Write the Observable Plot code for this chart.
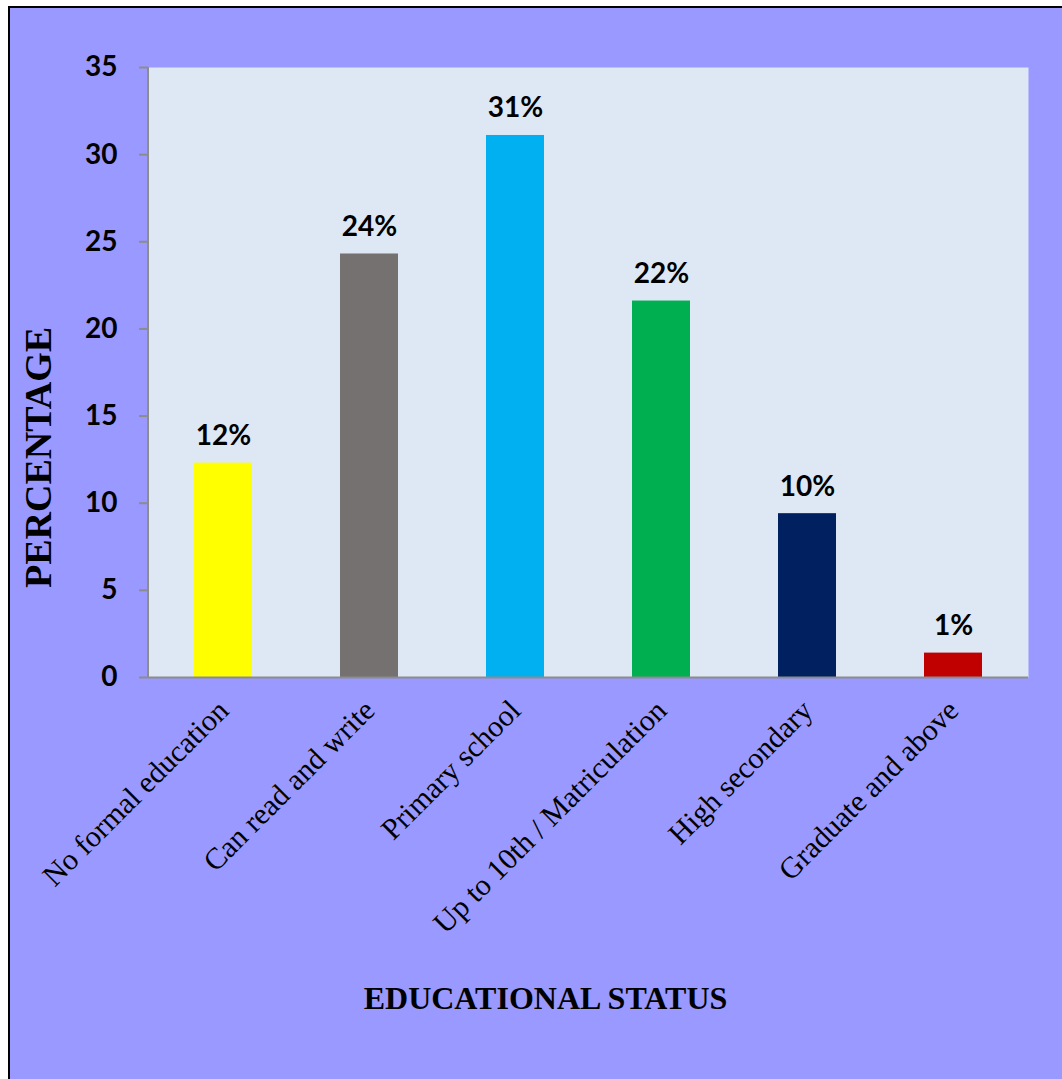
<!DOCTYPE html>
<html>
<head>
<meta charset="utf-8">
<script src="https://cdn.jsdelivr.net/npm/d3@7"></script>
<script src="https://cdn.jsdelivr.net/npm/@observablehq/plot@0.6"></script>
<style>
  html, body { margin: 0; padding: 0; background: #ffffff; width: 1062px; height: 1079px; overflow: hidden; }
  #panel { position: absolute; left: 8px; top: 6px; width: 1100px; height: 1100px; background: #9999FF;
           border-left: 2px solid #000; border-top: 2px solid #000; }
  #chart { position: absolute; left: 0; top: 0; }
  #chart svg { background: transparent; overflow: visible; }
</style>
</head>
<body>
<div id="panel"></div>
<div id="chart"></div>
<script>
const categories = ["No formal education", "Can read and write", "Primary school", "Up to 10th / Matriculation", "High secondary", "Graduate and above"];
const values = [12.3, 24.3, 31.1, 21.6, 9.4, 1.4];
const valueLabels = ["12%", "24%", "31%", "22%", "10%", "1%"];
const yTicks = [0, 5, 10, 15, 20, 25, 30, 35];
const xTitle = "EDUCATIONAL STATUS";
const yTitle = "PERCENTAGE";
const barColors = ["#FFFF00", "#767171", "#00B0F0", "#00B050", "#002060", "#C00000"];

const data = categories.map((c, i) => ({category: c, value: values[i], label: valueLabels[i]}));

const axisGray = "#8c8c8c";

const leftAxisLine = (index, scales, values, dims) => {
  const y = scales.y;
  return d3.create("svg:line")
    .attr("x1", dims.marginLeft).attr("x2", dims.marginLeft)
    .attr("y1", y(0)).attr("y2", y(35))
    .attr("stroke", axisGray).attr("stroke-width", 2)
    .node();
};

const chart = Plot.plot({
  width: 1062,
  height: 1079,
  marginLeft: 148,
  marginRight: 34,
  marginTop: 67,
  marginBottom: 402,
  style: {background: "transparent", color: "black"},
  x: {domain: categories, paddingInner: 0.6, paddingOuter: 0.3, label: null},
  y: {domain: [0, 35], label: null},
  color: {domain: categories, range: barColors},
  marks: [
    Plot.frame({fill: "#DEE8F5", stroke: null}),
    Plot.barY(data, {x: "category", y: "value", fill: "category"}),
    Plot.ruleY([0], {stroke: axisGray, strokeWidth: 2}),
    leftAxisLine,
    Plot.axisY({ticks: yTicks, tickSize: 9, tickPadding: 22, stroke: axisGray, strokeWidth: 2,
      fill: "black", fontSize: 28, fontWeight: "bold", fontFamily: "Lato"}),
    Plot.axisX({tickSize: 0, tickRotate: -45, tickPadding: 28, fill: "black",
      fontSize: 30, fontFamily: "Liberation Serif"}),
    Plot.text(data, {x: "category", y: "value", text: "label", lineAnchor: "bottom", dy: -18,
      fontSize: 28, fontWeight: "bold", fontFamily: "Lato", fill: "black"}),
    Plot.text([xTitle], {frameAnchor: "bottom", dy: 321, dx: -43, lineAnchor: "middle",
      fontSize: 32, fontWeight: "bold", fontFamily: "Liberation Serif", fill: "black"}),
    Plot.text([yTitle], {frameAnchor: "left", rotate: -90, dx: -110, dy: 85, textAnchor: "middle", lineAnchor: "middle",
      fontSize: 38, fontWeight: "bold", fontFamily: "Liberation Serif", fill: "black"})
  ]
});
document.getElementById("chart").appendChild(chart);
</script>
</body>
</html>
